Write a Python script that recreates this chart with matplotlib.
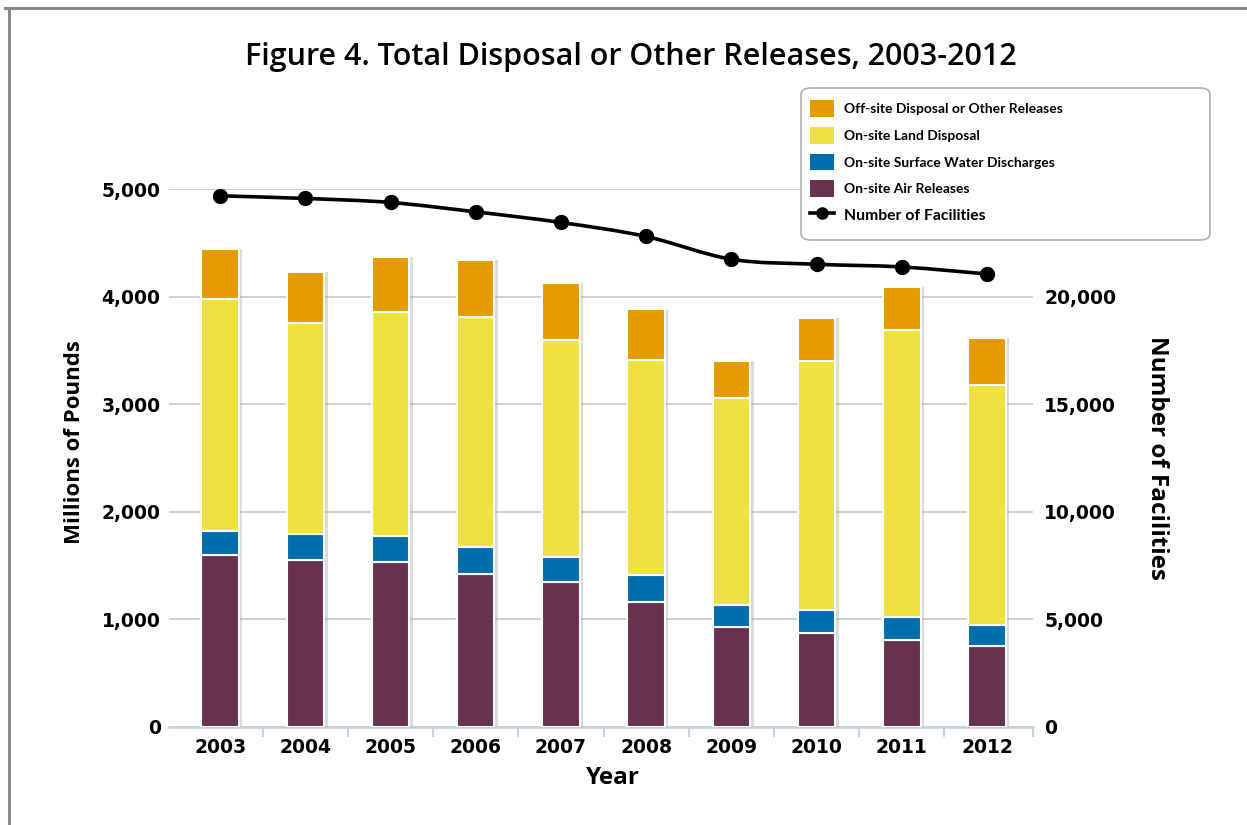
#!/usr/bin/env python3
"""Figure 4: Total disposal or other releases, 2003-2012 (stacked bars + facility count line)."""

import matplotlib
matplotlib.use("Agg")
import matplotlib.pyplot as plt
import matplotlib.patheffects as pe
from matplotlib.lines import Line2D
from matplotlib.patches import Patch, FancyBboxPatch
from matplotlib.path import Path
from matplotlib.patches import PathPatch
from matplotlib.ticker import FuncFormatter, FixedLocator
import numpy as np

YEARS = ["2003", "2004", "2005", "2006", "2007", "2008", "2009", "2010", "2011", "2012"]

# millions of pounds
AIR = [1594, 1551, 1535, 1423, 1349, 1162, 932, 870, 808, 752]
WATER = [230, 245, 242, 245, 230, 245, 199, 218, 217, 196]
LAND = [2159, 1957, 2081, 2144, 2016, 2001, 1926, 2311, 2663, 2234]
OFFSITE = [466, 478, 513, 531, 531, 475, 345, 407, 407, 434]

FACILITIES = [24697, 24576, 24389, 23952, 23458, 22806, 21748, 21515, 21389, 21063]

SERIES = [
    ("On-site Air Releases", AIR, "#66324f"),
    ("On-site Surface Water Discharges", WATER, "#006dad"),
    ("On-site Land Disposal", LAND, "#ede240"),
    ("Off-site Disposal or Other Releases", OFFSITE, "#e49b00"),
]

TICK_FONT = "DejaVu Sans"
LABEL_FONT = "Open Sans"
W, H = 1247, 825


def smooth_path(xs, ys):
    """Catmull-Rom style bezier through the given points."""
    pts = np.column_stack([xs, ys]).astype(float)
    verts = [pts[0]]
    codes = [Path.MOVETO]
    n = len(pts)
    for i in range(n - 1):
        p0 = pts[i - 1] if i > 0 else pts[i]
        p1 = pts[i]
        p2 = pts[i + 1]
        p3 = pts[i + 2] if i + 2 < n else pts[i + 1]
        c1 = p1 + (p2 - p0) / 6.0
        c2 = p2 - (p3 - p1) / 6.0
        verts += [c1, c2, p2]
        codes += [Path.CURVE4] * 3
    return Path(verts, codes)


def main() -> None:
    fig = plt.figure(figsize=(W / 100, H / 100), dpi=100)
    ax = fig.add_axes([0.1355, 0.1192, 0.6929, 0.6513])
    x = np.arange(len(YEARS))

    shadow = [pe.SimplePatchShadow(offset=(2.5, 0), shadow_rgbFace="#9a9a9a", alpha=0.35), pe.Normal()]
    bottom = np.zeros(len(YEARS))
    for name, vals, color in SERIES:
        bars = ax.bar(x, vals, bottom=bottom, width=0.44, color=color,
                      edgecolor="white", linewidth=1.5, zorder=3, label=name)
        for b in bars:
            b.set_path_effects(shadow)
        bottom += np.array(vals)

    ax.set_xlim(-0.6, 9.54)
    ax.set_ylim(0, 5000)
    ax.yaxis.set_major_locator(FixedLocator([0, 1000, 2000, 3000, 4000, 5000]))
    ax.yaxis.set_major_formatter(FuncFormatter(lambda v, _: f"{int(v):,}"))
    ax.set_xticks(x)
    ax.set_xticklabels(YEARS)
    ax.set_xticks(list(x[:-1] + 0.5) + [9.54], minor=True)
    ax.tick_params(axis="x", which="major", length=0, pad=8)
    ax.tick_params(axis="x", which="minor", length=7, width=1.5, color="#c5d3e0", direction="out")
    ax.tick_params(axis="y", length=0, pad=6)
    for lab in ax.get_xticklabels() + ax.get_yticklabels():
        lab.set_fontfamily(TICK_FONT)
        lab.set_fontweight("bold")
        lab.set_fontsize(13.5)

    ax.grid(True, axis="y", color="#c8c8c8", linewidth=1.2, zorder=0)
    ax.set_axisbelow(True)
    for s in ("left", "right", "top"):
        ax.spines[s].set_visible(False)
    ax.spines["bottom"].set_color("#c5d3e0")
    ax.spines["bottom"].set_linewidth(1.8)

    ax.set_ylabel("Millions of Pounds", fontfamily=LABEL_FONT, fontweight="bold", fontsize=16)
    ax.yaxis.set_label_coords(-0.097, 0.53)
    ax.set_xlabel("Year", fontfamily=LABEL_FONT, fontweight="bold", fontsize=17.5)
    ax.xaxis.set_label_coords(0.514, -0.074)

    ax2 = ax.twinx()
    ax2.set_ylim(0, 25000)
    ax2.yaxis.set_major_locator(FixedLocator([0, 5000, 10000, 15000, 20000]))
    ax2.yaxis.set_major_formatter(FuncFormatter(lambda v, _: f"{int(v):,}"))
    ax2.tick_params(axis="y", length=0, pad=8)
    for lab in ax2.get_yticklabels():
        lab.set_fontfamily(TICK_FONT)
        lab.set_fontweight("bold")
        lab.set_fontsize(13.5)
    for s in ax2.spines.values():
        s.set_visible(False)
    ax2.set_ylabel("Number of Facilities", fontfamily=LABEL_FONT, fontweight="bold", fontsize=17.5,
                   rotation=-90, va="center")
    ax2.yaxis.set_label_coords(1.143, 0.5)

    ax2.add_patch(PathPatch(smooth_path(x, FACILITIES), facecolor="none", edgecolor="black",
                            linewidth=2.6, zorder=4))
    ax2.plot(x, FACILITIES, linestyle="none", marker="o", markersize=10, color="black", zorder=5)

    # legend frame drawn separately so the padding matches the original box
    fig.add_artist(FancyBboxPatch((801 / W, 1 - 240 / H), 409 / W, 152 / H,
                                  boxstyle="round,pad=0,rounding_size=0.008",
                                  transform=fig.transFigure, facecolor="white",
                                  edgecolor="#b0b0b0", linewidth=1.2, zorder=5))
    handles = [Patch(facecolor=c, edgecolor="none") for _, _, c in SERIES[::-1]]
    labels = [n for n, _, _ in SERIES[::-1]]
    handles.append(Line2D([], [], color="black", linewidth=2.6, marker="o", markersize=8))
    labels.append("Number of Facilities")
    leg = fig.legend(handles, labels, loc="upper left", bbox_to_anchor=(806 / W, 1 - 96 / H),
                     frameon=False, prop={"family": "Lato", "weight": "bold", "size": 10},
                     handlelength=1.7, handleheight=1.5, labelspacing=0.70,
                     borderpad=0.3, handletextpad=0.75, borderaxespad=0)
    leg.set_zorder(6)
    leg.get_texts()[-1].set_fontsize(11.3)

    fig.text(0.506, 0.931, "Figure 4. Total Disposal or Other Releases, 2003-2012", ha="center", va="center",
             fontfamily=LABEL_FONT, fontweight="semibold", fontsize=22)

    # partial frame (top and left)
    fig.add_artist(Line2D([5 / W, 1], [1 - 8 / H, 1 - 8 / H], transform=fig.transFigure,
                          color="#8a8a8a", linewidth=2.2))
    fig.add_artist(Line2D([9 / W, 9 / W], [0, 1 - 8 / H], transform=fig.transFigure,
                          color="#8a8a8a", linewidth=2.2))

    fig.savefig("out.png", dpi=100)
    plt.close(fig)


if __name__ == "__main__":
    main()
